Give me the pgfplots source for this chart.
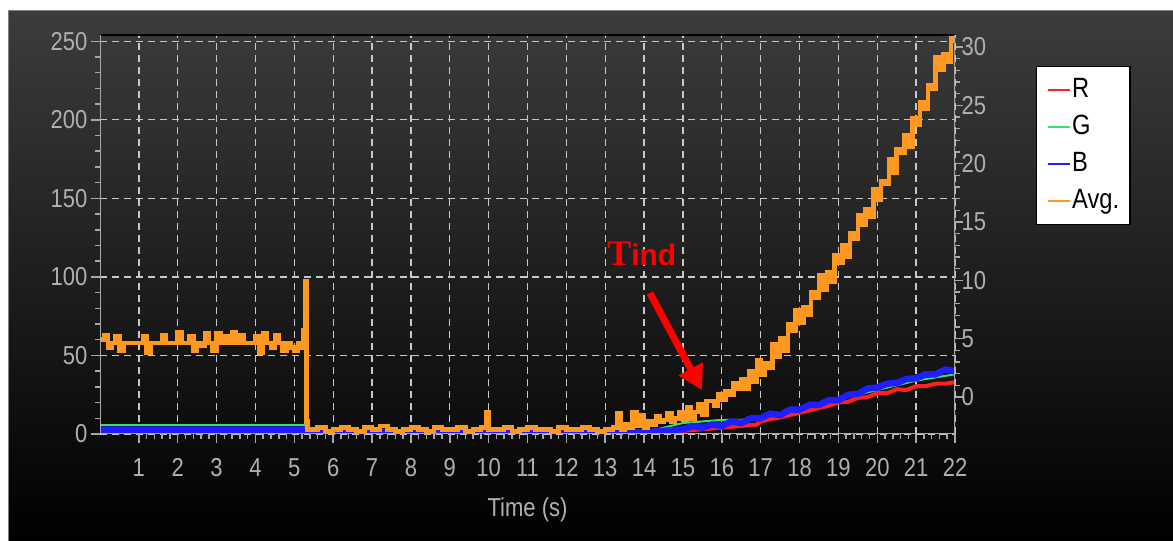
\documentclass[border=0pt]{standalone}
\usepackage{pgfplots}
\pgfplotsset{compat=1.18}
\usepackage{fontspec}
\setmainfont[FakeStretch=0.85]{Liberation Sans}
\newfontfamily\tindserif{Liberation Serif}
\newfontfamily\tindsans{Liberation Sans}
\usetikzlibrary{arrows.meta}

\definecolor{tickgray}{RGB}{176,176,176}
\definecolor{gridgray}{RGB}{200,200,200}
\definecolor{axisgray}{RGB}{168,168,168}
\definecolor{panelgray}{RGB}{60,60,60}
\definecolor{avgorange}{RGB}{255,152,32}
\definecolor{rred}{RGB}{255,32,32}
\definecolor{ggreen}{RGB}{60,220,110}
\definecolor{bblue}{RGB}{30,30,255}

\tikzset{chartfont/.style={font=\fontsize{26}{30}\selectfont, text=tickgray}}

\begin{document}
\begin{tikzpicture}
\useasboundingbox (0,0) rectangle (1173bp,541bp);
\fill[white] (0,0) rectangle (1173bp,541bp);
\shade[top color=panelgray, bottom color=black, draw=gray, line width=1bp] (8bp,-2bp) rectangle (1175bp,530bp);

% right-hand scale
\begin{axis}[
  at={(100bp,107bp)}, anchor=south west,
  scale only axis, width=855bp, height=399bp,
  xmin=0, xmax=22, ymin=-3.17, ymax=31.03,
  hide x axis,
  axis line style={draw=none},
  ytick={0,5,...,30}, minor y tick num=4,
  ytick pos=right, yticklabel pos=right,
  tick align=outside,
  major tick length=8bp, minor tick length=5bp,
  every tick/.style={axisgray, line width=1.5bp},
  /pgf/number format/assume math mode=true,
  yticklabel style={chartfont, xshift=-5bp},
]
\end{axis}

\begin{axis}[
  at={(100bp,107bp)}, anchor=south west,
  scale only axis, width=855bp, height=399bp,
  xmin=0, xmax=22, ymin=0, ymax=254,
  axis line style={draw=none},
  xtick={1,...,22}, minor x tick num=4,
  ytick={0,50,...,250}, minor y tick num=4,
  xtick pos=bottom, ytick pos=left,
  tick align=outside,
  major tick length=9bp, minor tick length=5bp,
  every tick/.style={axisgray, line width=1.5bp},
  grid=major,
  major grid style={gridgray, line width=1.3bp, dash pattern=on 7bp off 5bp},
  /pgf/number format/assume math mode=true,
  tick label style={chartfont},
  xticklabel style={yshift=-12bp},
  xlabel={Time (s)},
  every axis x label/.style={at={(axis description cs:0.5,-0.19)}, anchor=center, chartfont},
  legend style={at={(1.0947,0.9223)}, anchor=north west, draw=black, line width=1.5bp,
    fill=white, font=\fontsize{28}{30}\selectfont, text=black,
    inner xsep=10bp, inner ysep=10bp, row sep=10bp,
    nodes={inner sep=1bp, text height=20bp, text depth=5bp}},
  legend cell align=left,
  legend image post style={line width=2.5bp},
  legend image code/.code={\draw (0bp,0bp) -- (16bp,0bp);
    \path (0bp,0bp) -- (22bp,0bp);},
]

% R
\addplot[rred, line width=4bp] coordinates {
(0,0.3)(5.28,0.3)(5.3,0.5)(14,0.5)(15,2)(16,4)(16.9,6)(17,8)(17.25,9.5)(17.5,10.5)(17.75,12)
(18,13.5)(18.25,15)(18.5,16.5)(18.75,18)(19,20)(19.25,20.5)(19.5,23)(19.75,23.5)(20,26)(20.25,26)
(20.5,28.5)(20.75,28)(21,30.5)(21.25,30.5)(21.5,32)(21.75,32)(22,33)
};
\addlegendentry{R}

% G
\addplot[ggreen, line width=2bp] coordinates {
(0,5.6)(5.28,5.6)(5.3,1)(14,1)(14.5,4)(15,7)(15.5,8)(16,9)(16.5,9)(17,11)(17.5,13)(18,16)
(18.5,19)(19,22)(19.5,25)(20,28)(20.5,31)(21,34)(21.5,36)(22,38)
};
\addlegendentry{G}

% B
\addplot[bblue, line width=6.5bp] coordinates {
(0,2.8)(5.28,2.8)(5.3,1)(14,1)(14.5,2)(15,3)(15.25,5)(15.5,4)(15.75,6)(16,5)(16.25,8)(16.5,7)
(16.75,10)(17,10)(17.25,13)(17.5,12)(17.75,15.5)(18,15.5)(18.25,18.5)(18.5,18.5)(18.75,21.5)(19,21.5)
(19.25,25)(19.5,25.5)(19.75,29)(20,29.5)(20.25,32)(20.5,32.5)(20.75,35)(21,35.5)(21.25,38)(21.5,38)
(21.75,41)(22,40)
};
\addlegendentry{B}

% Avg.
\addplot[avgorange, line width=4.5bp, const plot] coordinates {
(0.0,60)(0.1,63)(0.2,55)(0.3,58)(0.4,62)(0.5,53)(0.6,58)(0.7,58)(0.8,58)(0.9,58)
(1.0,58)(1.1,62)(1.2,52)(1.3,58)(1.4,58)(1.5,58)(1.6,63)(1.7,58)(1.8,58)(1.9,58)
(2.0,65)(2.1,58)(2.2,58)(2.3,62)(2.4,53)(2.5,58)(2.6,56)(2.7,64)(2.8,58)(2.9,53)
(3.0,64)(3.1,58)(3.2,62)(3.3,58)(3.4,65)(3.5,58)(3.6,63)(3.7,58)(3.8,58)(3.9,58)
(4.0,62)(4.1,52)(4.2,64)(4.3,58)(4.4,55)(4.5,63)(4.6,58)(4.7,53)(4.8,58)(4.9,55)
(5.0,53)(5.1,58)(5.2,55)(5.24,66)(5.28,97)(5.31,8)(5.34,3)
(5.4,3)(5.6,4)(5.8,2)(6.0,3)(6.2,4)(6.4,3)(6.6,2)(6.8,4)(7.0,3)(7.2,5)(7.4,3)(7.6,2)
(7.8,3)(8.0,4)(8.2,3)(8.4,2)(8.6,4)(8.8,3)(9.0,3)(9.2,4)(9.4,2)(9.6,3)(9.8,4)(9.95,14)
(10.0,3)(10.2,3)(10.4,4)(10.6,2)(10.8,3)(11.0,4)(11.2,3)(11.4,3)(11.6,2)(11.8,4)(12.0,3)
(12.2,3)(12.4,4)(12.6,3)(12.8,2)(13.0,3)(13.2,4)(13.3,13)(13.4,3)
(13.5,6)(13.6,4)(13.7,14)(13.8,5)(13.9,12)(14.0,4)(14.1,8)(14.2,6)(14.3,11)(14.4,8)
(14.5,9)(14.6,13)(14.7,8)(14.8,10)(14.9,14)(15.0,9)(15.1,17)(15.2,10)(15.3,14)(15.4,19)
(15.5,12)(15.6,21)(15.7,21)(15.8,18)(15.9,25)(16.0,22)(16.1,27)(16.2,25)(16.3,32)(16.4,29)
(16.5,35)(16.6,29)(16.7,40)(16.8,33)(16.9,47)(17.0,38)(17.1,45)(17.2,42)(17.3,57)(17.4,49)
(17.5,61)(17.6,53)(17.7,70)(17.8,66)(17.9,79)(18.0,71)(18.1,81)(18.2,76)(18.3,90)(18.4,87)
(18.5,101)(18.6,92)(18.7,103)(18.8,97)(18.9,114)(19.0,109)(19.1,120)(19.2,113)(19.3,128)(19.4,124)
(19.5,139)(19.6,133)(19.7,143)(19.8,138)(19.9,156)(20.0,149)(20.1,161)(20.2,159)(20.3,175)(20.4,166)
(20.5,181)(20.6,179)(20.7,190)(20.8,183)(20.9,201)(21.0,197)(21.1,211)(21.2,207)(21.3,222)(21.4,220)
(21.5,240)(21.6,232)(21.7,242)(21.8,237)(21.9,252)(22.0,249)
};
\addlegendentry{Avg.}

% frame of the plotting area
\draw[black, line width=2bp] (rel axis cs:0,1) -- (rel axis cs:1,1);
\draw[axisgray, line width=2.5bp] (rel axis cs:0,0) -- (rel axis cs:1,0);
\draw[axisgray, line width=2.5bp] (rel axis cs:0,0) -- (rel axis cs:0,1);
\draw[axisgray, line width=2.5bp] (rel axis cs:1,0) -- (rel axis cs:1,1);

% onset marker
\node[anchor=base west, inner sep=0pt, text=red] at (axis cs:13.05,107.5)
  {{\fontsize{36}{38}\selectfont\tindserif\bfseries T}{\fontsize{30}{32}\selectfont\tindsans\bfseries ind}};
\draw[red, line width=7bp, -{Triangle[length=24bp,width=26bp]}]
  (axis cs:14.15,89.7) -- (axis cs:15.49,28.0);
\end{axis}
\end{tikzpicture}
\end{document}
